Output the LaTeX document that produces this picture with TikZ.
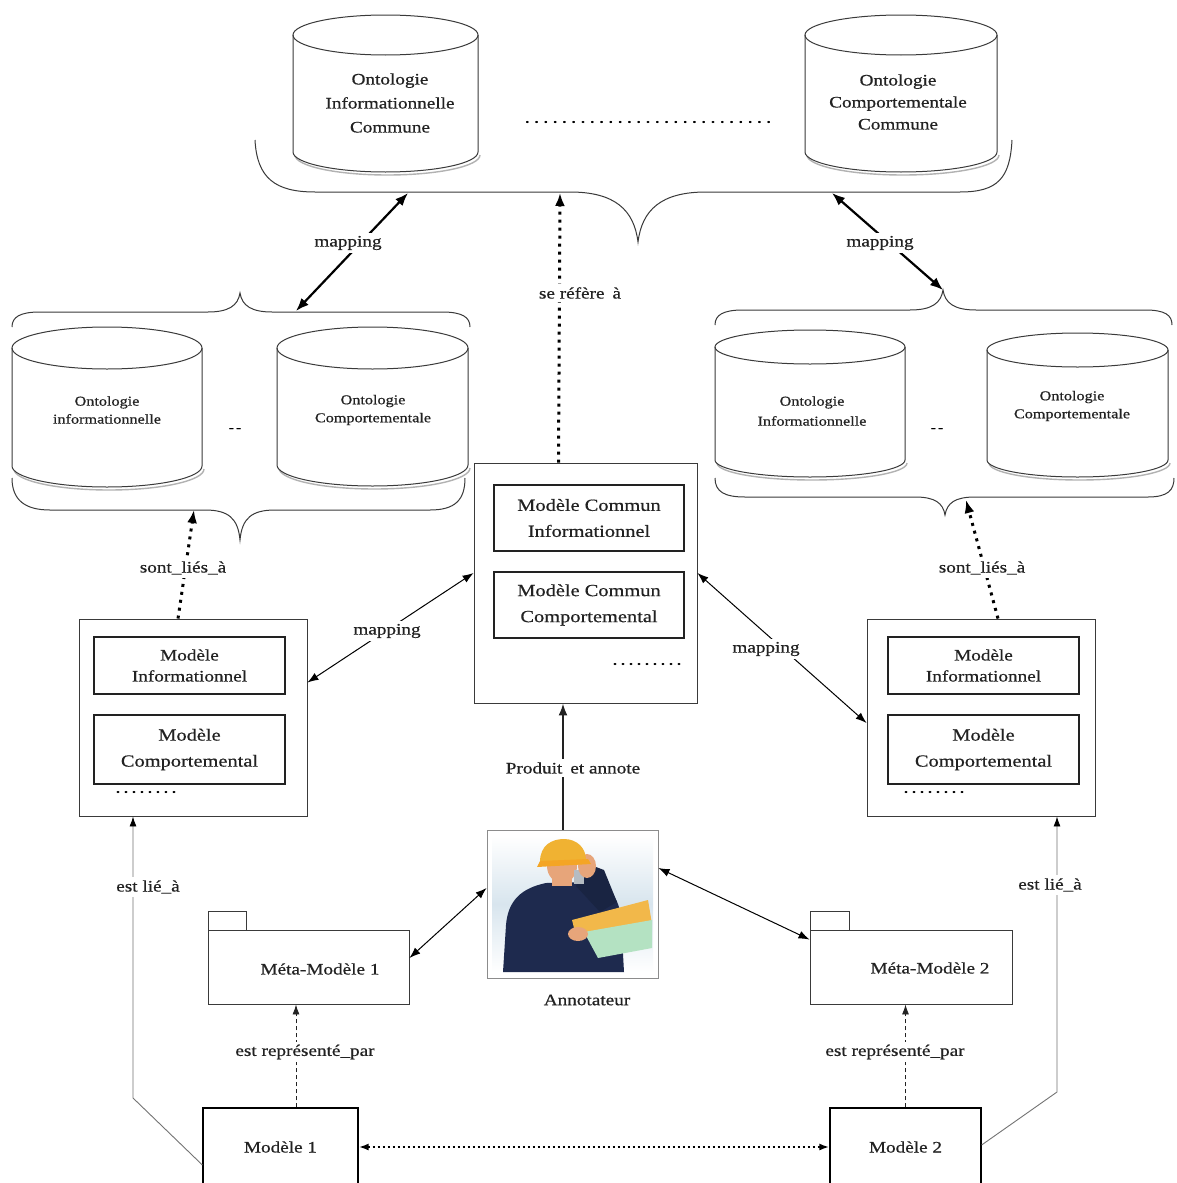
\documentclass[tikz,border=0pt]{standalone}
\usepackage{fontspec}
\setmainfont{Liberation Serif}[FakeStretch=1.2,FakeBold=0.6]
\usetikzlibrary{arrows.meta,calc}

\definecolor{ink}{HTML}{222222}
\definecolor{edge}{HTML}{3A3A3A}
\definecolor{navy}{HTML}{1E2A4E}
\definecolor{skin}{HTML}{E7A57A}
\definecolor{hatyellow}{HTML}{F0B232}
\definecolor{paperY}{HTML}{F2B84A}
\definecolor{paperG}{HTML}{B4E2C2}
\definecolor{haze}{HTML}{D8E5EE}

\newcommand{\setfs}[2]{\fontsize{#1}{#2}\selectfont}
% a row of evenly spaced dots: total width, dot pitch
\newcommand{\dotrow}[2]{\hbox to #1{\xleaders\hbox to #2{\hss.\hss}\hfill}}

% database cylinder outline: left, right, top, bottom, end radius
\newcommand{\dbcyl}[5]{%
  \pgfmathsetmacro{\cylrx}{(#2-#1)/2}%
  \pgfmathsetmacro{\cylcx}{(#1+#2)/2}%
  \pgfmathsetmacro{\cylyt}{#3+#5}%
  \pgfmathsetmacro{\cylyb}{#4-#5}%
  \draw[cylshadow] (#1+2,\cylyb+3) arc[start angle=180,end angle=0,x radius=\cylrx,y radius=#5];
  \draw[cylline, fill=white] (#1,\cylyt) -- (#1,\cylyb) arc[start angle=180,end angle=0,x radius=\cylrx,y radius=#5] -- (#2,\cylyt);
  \draw[cylline] (\cylcx,\cylyt) ellipse[x radius=\cylrx,y radius=#5];
}

\tikzset{
  frame/.style={draw=edge, line width=0.9pt, fill=white, inner sep=0pt},
  innerbox/.style={draw=ink, line width=1.8pt, inner sep=0pt, align=center, font=\setfs{17}{26}, text=ink},
  cylline/.style={draw=edge, line width=1pt},
  cylshadow/.style={draw=black!30, line width=1.4pt},
  brace/.style={draw=edge, line width=1pt},
  cyltext/.style={align=center, text=ink},
  tag/.style={fill=white, inner sep=3pt, font=\setfs{16}{20}, text=ink},
  boldmap/.style={draw=black, line width=2.2pt, {Latex[length=13pt,width=10pt]}-{Latex[length=13pt,width=10pt]}},
  thinmap/.style={draw=black, line width=1pt, {Latex[length=11pt,width=8pt]}-{Latex[length=11pt,width=8pt]}},
  dotref/.style={draw=black, line width=3pt, dash pattern=on 3pt off 5pt, -{Latex[length=13pt,width=10pt]}},
  dotmodel/.style={draw=black, line width=2pt, dash pattern=on 2pt off 3pt, {Latex[length=10pt,width=7pt]}-{Latex[length=10pt,width=7pt]}},
  dashrep/.style={draw=ink, line width=0.9pt, dash pattern=on 4pt off 3pt, -{Latex[length=10pt,width=7pt]}},
  liearrow/.style={draw=black!55, line width=0.9pt, -{Latex[length=10pt,width=7pt,color=black]}},
  prodarrow/.style={draw=ink, line width=2pt, -{Latex[length=12pt,width=9pt]}},
}

\begin{document}
\begin{tikzpicture}[x=1pt,y=-1pt]
\useasboundingbox (0,0) rectangle (1176,1183);
\clip (0,0) rectangle (1176,1183);
\fill[white] (0,0) rectangle (1176,1183);

% ---------- common ontologies ----------
\dbcyl{293}{478}{15}{172}{20}
\dbcyl{805}{997}{15}{172}{20}
\node[cyltext, font=\setfs{16}{24}] (oIC) at (390,103) {Ontologie\\Informationnelle\\Commune};
\node[cyltext, font=\setfs{16}{22}] (oCC) at (898,102) {Ontologie\\Comportementale\\Commune};
\node[inner sep=0pt, font=\setfs{17}{20}] (topdots) at (648,122) {\dotrow{251pt}{9pt}};

\draw[brace] (255,140) .. controls (257,178) and (275,192) .. (315,192) -- (570,192)
  .. controls (615,192) and (634,210) .. (638,242)
  .. controls (642,210) and (661,192) .. (706,192) -- (960,192)
  .. controls (998,192) and (1010,178) .. (1012,140);

% ---------- left ontology group ----------
\dbcyl{12}{202}{327}{487}{21}
\dbcyl{277}{468}{327}{486}{21}
\node[cyltext, font=\setfs{13.5}{18}] (oIL) at (107,410) {Ontologie\\informationnelle};
\node[cyltext, font=\setfs{13.5}{18}] (oCL) at (373,410) {Ontologie\\Comportementale};
\node[inner sep=0pt, font=\setfs{13}{16}] (gapL) at (235,430) {-\,-};

\draw[brace] (12,327) .. controls (12,317) and (20,312) .. (40,312) -- (208,312)
  .. controls (228,312) and (238,306) .. (240,293)
  .. controls (242,306) and (252,312) .. (272,312) -- (442,312)
  .. controls (462,312) and (470,317) .. (470,327);
\draw[brace] (12,478) .. controls (12,500) and (25,510) .. (50,510) -- (205,510)
  .. controls (228,510) and (238,518) .. (240,540)
  .. controls (242,518) and (252,510) .. (275,510) -- (430,510)
  .. controls (455,510) and (465,500) .. (465,478);

% ---------- right ontology group ----------
\dbcyl{715}{905}{330}{477}{17}
\dbcyl{987}{1168}{333}{477}{17}
\node[cyltext, font=\setfs{13.5}{20}] (oIR) at (812,411) {Ontologie\\Informationnelle};
\node[cyltext, font=\setfs{13.5}{18}] (oCR) at (1072,406) {Ontologie\\Comportementale};
\node[inner sep=0pt, font=\setfs{13}{16}] (gapR) at (937,430) {-\,-};

\draw[brace] (715,325) .. controls (715,315) and (723,310) .. (743,310) -- (910,310)
  .. controls (932,310) and (941,303) .. (943,290)
  .. controls (945,303) and (954,310) .. (976,310) -- (1145,310)
  .. controls (1165,310) and (1172,315) .. (1172,325);
\draw[brace] (715,478) .. controls (715,492) and (725,497) .. (745,497) -- (915,497)
  .. controls (935,497) and (943,503) .. (945,515)
  .. controls (947,503) and (955,497) .. (975,497) -- (1148,497)
  .. controls (1168,497) and (1174,490) .. (1174,478);

% brace contact points
\coordinate (tbL) at (408,193);
\coordinate (tbC) at (560,193);
\coordinate (tbR) at (832,193);
\coordinate (lgT) at (296,311);
\coordinate (rgT) at (943,290);
\coordinate (lgB) at (194,510);
\coordinate (rgB) at (966,500);

% ---------- model boxes ----------
\node[frame, minimum width=223, minimum height=240] (ctr) at (585.5,583) {};
\node[innerbox, minimum width=190, minimum height=66] (ctr1) at (589,518) {Modèle Commun\\Informationnel};
\node[innerbox, minimum width=190, minimum height=66] (ctr2) at (589,605) {Modèle Commun\\Comportemental};
\node[inner sep=0pt, font=\setfs{17}{20}] (ctrdots) at (647,664) {\dotrow{72pt}{8pt}};

\node[frame, minimum width=228, minimum height=197] (lbox) at (193,717.5) {};
\node[innerbox, minimum width=191, minimum height=57, font=\setfs{16}{21}] (lbox1) at (189.5,665.5) {Modèle\\Informationnel};
\node[innerbox, minimum width=191, minimum height=69] (lbox2) at (189.5,749.5) {Modèle\\Comportemental};
\node[inner sep=0pt, font=\setfs{17}{20}] (ldots) at (146,792) {\dotrow{64pt}{8pt}};

\node[frame, minimum width=228, minimum height=197] (rbox) at (981,717.5) {};
\node[innerbox, minimum width=191, minimum height=57, font=\setfs{16}{21}] (rbox1) at (983.5,665.5) {Modèle\\Informationnel};
\node[innerbox, minimum width=191, minimum height=69] (rbox2) at (983.5,749.5) {Modèle\\Comportemental};
\node[inner sep=0pt, font=\setfs{17}{20}] (rdots) at (934,792) {\dotrow{64pt}{8pt}};

% ---------- annotator ----------
\node[draw=black!45, line width=0.9pt, fill=white, minimum width=171, minimum height=148, inner sep=0pt] (annot) at (572.5,904) {};
\begin{scope}
  \clip (492,836) rectangle (653,972);
  \shade[top color=white, bottom color=white, middle color=haze] (492,836) rectangle (653,972);
  % torso
  \fill[navy] (503,972) -- (506,925) .. controls (508,900) and (522,888) .. (546,883) -- (590,882)
     .. controls (610,886) and (619,898) .. (621,918) -- (624,972) -- cycle;
  % neck and face
  \fill[skin] (552,868) rectangle (572,886);
  \fill[skin] (562,866) ellipse[x radius=15, y radius=17];
  % raised forearm and hand with phone
  \fill[navy!85!black] (576,886) -- (588,864) -- (604,870) -- (617,902) -- (600,912) -- cycle;
  \fill[haze!60!gray] (574,870) rectangle (584,884);
  \fill[skin] (587,866) ellipse[x radius=9, y radius=12];
  % hard hat
  \fill[hatyellow] (540,862) .. controls (540,845) and (552,839) .. (564,839)
     .. controls (577,839) and (586,848) .. (586,860) -- (590,863) -- (538,866) -- cycle;
  \fill[hatyellow!75!orange] (540,861) -- (588,859) -- (591,864) -- (537,867) -- cycle;
  % plans held in the other hand
  \fill[paperY] (572,920) -- (648,900) -- (652,924) -- (598,936) -- (576,936) -- cycle;
  \fill[paperG] (584,932) -- (652,920) -- (652,948) -- (598,958) -- cycle;
  \fill[skin] (578,934) ellipse[x radius=10, y radius=7];
\end{scope}
\node[font=\setfs{16}{20}, text=ink] (annotname) at (587,1000) {Annotateur};

% ---------- meta-models ----------
\node[frame, minimum width=201, minimum height=74] (mm1) at (308.5,967) {};
\node[frame, minimum width=38, minimum height=19] (mm1tab) at (227,920.5) {};
\node[font=\setfs{16}{20}, text=ink] (mm1t) at (320,969) {Méta-Modèle 1};

\node[frame, minimum width=202, minimum height=74] (mm2) at (911,967) {};
\node[frame, minimum width=39, minimum height=19] (mm2tab) at (829.5,920.5) {};
\node[font=\setfs{16}{20}, text=ink] (mm2t) at (930,968) {Méta-Modèle 2};

% ---------- models ----------
\node[draw=black, line width=1.2pt, fill=white, minimum width=155, minimum height=78, inner sep=0pt,
      font=\setfs{16}{20}, text=ink] (m1) at (280.5,1147) {Modèle 1};
\node[draw=black, line width=1.2pt, fill=white, minimum width=151, minimum height=78, inner sep=0pt,
      font=\setfs{16}{20}, text=ink] (m2) at (905.5,1147) {Modèle 2};

% ---------- connectors ----------
\draw[boldmap] (lgT) -- (tbL);
\draw[boldmap] (tbR) -- (rgT);
\draw[dotref] ($(ctr.north)+(-27,0)$) -- (tbC);
\draw[dotref] ($(lbox.north)+(-15,0)$) -- (lgB);
\draw[dotref] ($(rbox.north)+(17,0)$) -- (rgB);

\draw[thinmap] ($(lbox.east)+(0,-35)$) -- ($(ctr.west)+(0,-10)$);
\draw[thinmap] ($(ctr.east)+(0,-10)$) -- ($(rbox.west)+(0,5.5)$);

\coordinate (pe) at ($(annot.north)+(-9.5,0)$);
\draw[prodarrow] (pe) -- (pe |- ctr.south);

\draw[thinmap] ($(mm1.east)+(0,-9)$) -- ($(annot.west)+(0,-16)$);
\draw[thinmap] ($(annot.east)+(0,-36)$) -- ($(mm2.north west)+(0,10)$);

\coordinate (rp1) at ($(m1.north)+(15.5,0)$);
\draw[dashrep] (rp1) -- (rp1 |- mm1.south);
\draw[dashrep] (m2.north) -- (m2.north |- mm2.south);

\draw[dotmodel] (m1.east) -- (m2.west);

\coordinate (elbowL) at (133,1098);
\draw[liearrow] ($(m1.west)+(0,18)$) -- (elbowL) -- (elbowL |- lbox.south);
\coordinate (elbowR) at (1057,1092);
\draw[liearrow] ($(m2.east)+(0,-2)$) -- (elbowR) -- (elbowR |- rbox.south);

% ---------- connector labels ----------
\node[tag] (lmapTL) at (348,243) {mapping};
\node[tag] (lmapTR) at (880,243) {mapping};
\node[tag] (lref) at (580,293) {se réfère\enspace à};
\node[tag] (lsontL) at (183,568) {sont\_liés\_à};
\node[tag] (lsontR) at (982,568) {sont\_liés\_à};
\node[tag] (lmapML) at (387,631) {mapping};
\node[tag] (lmapMR) at (766,649) {mapping};
\node[tag] (lprod) at (573,768) {Produit\enspace et annote};
\node[tag] (lestL) at (148,887) {est lié\_à};
\node[tag] (lestR) at (1050,885) {est lié\_à};
\node[tag] (lrepL) at (305,1052) {est représenté\_par};
\node[tag] (lrepR) at (895,1052) {est représenté\_par};
\end{tikzpicture}
\end{document}
